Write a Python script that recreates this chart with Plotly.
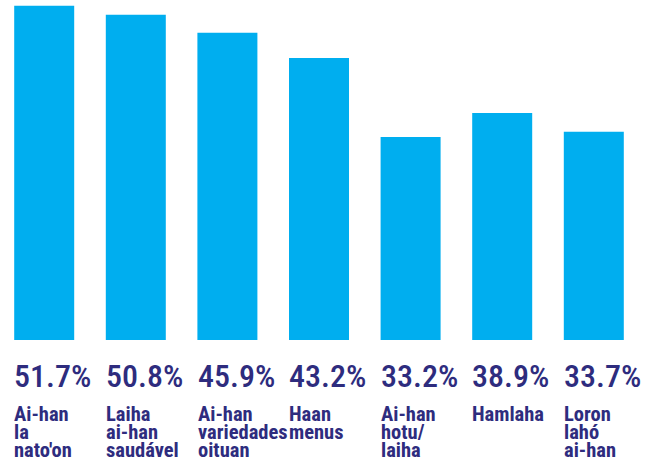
import plotly.graph_objects as go

# Data
categories = ["Ai-han\nla\nnato'on", "Laiha\nai-han\nsaudável", "Ai-han\nvariedades\noituan",
              "Haan\nmenus", "Ai-han\nhotu/\nlaiha", "Hamlaha", "Loron\nlahó\nai-han"]
value_labels = ["51.7%", "50.8%", "45.9%", "43.2%", "33.2%", "38.9%", "33.7%"]
# drawn bar heights as they appear in the infographic (percent units)
bar_heights = [51.7, 50.3, 47.5, 43.6, 31.4, 35.1, 32.2]

BAR = "#00AEEF"
NAVY = "#2E2C7E"
FONT = "Roboto Condensed, Open Sans, sans-serif"
W, H = 647, 463
bottom_px = 340
px_per_unit = 6.466
spacing_px = 91.6
first_center = 44.2
bar_w = 60 / spacing_px

x = list(range(len(categories)))
fig = go.Figure(go.Bar(x=x, y=bar_heights, width=bar_w, marker=dict(color=BAR, line=dict(width=0)),
                       hoverinfo="skip"))

def px_to_y(p):
    return (bottom_px - p) / px_per_unit

ann = []
for i, (cat, lab) in enumerate(zip(categories, value_labels)):
    left = i - bar_w / 2 - 0.02
    ann.append(dict(x=left, y=px_to_y(375.5), xref="x", yref="y", text=lab, showarrow=False,
                    xanchor="left", yanchor="middle",
                    font=dict(family=FONT, size=32, color=NAVY, weight=500)))
    for j, line in enumerate(cat.split("\n")):
        ann.append(dict(x=left, y=px_to_y(414 + 18 * j), xref="x", yref="y", text=line,
                        showarrow=False, xanchor="left", yanchor="middle",
                        font=dict(family=FONT, size=20.5, color=NAVY, weight="bold")))

fig.update_layout(
    width=W, height=H, margin=dict(l=0, r=0, t=0, b=0),
    paper_bgcolor="white", plot_bgcolor="white", showlegend=False,
    annotations=ann,
    xaxis=dict(range=[-first_center / spacing_px, (W - first_center) / spacing_px],
               visible=False, fixedrange=True),
    yaxis=dict(range=[px_to_y(H), px_to_y(0)], visible=False, fixedrange=True),
)
fig.write_html("out.html", config={"displayModeBar": False},
               post_script="document.body.style.margin='0px';")
